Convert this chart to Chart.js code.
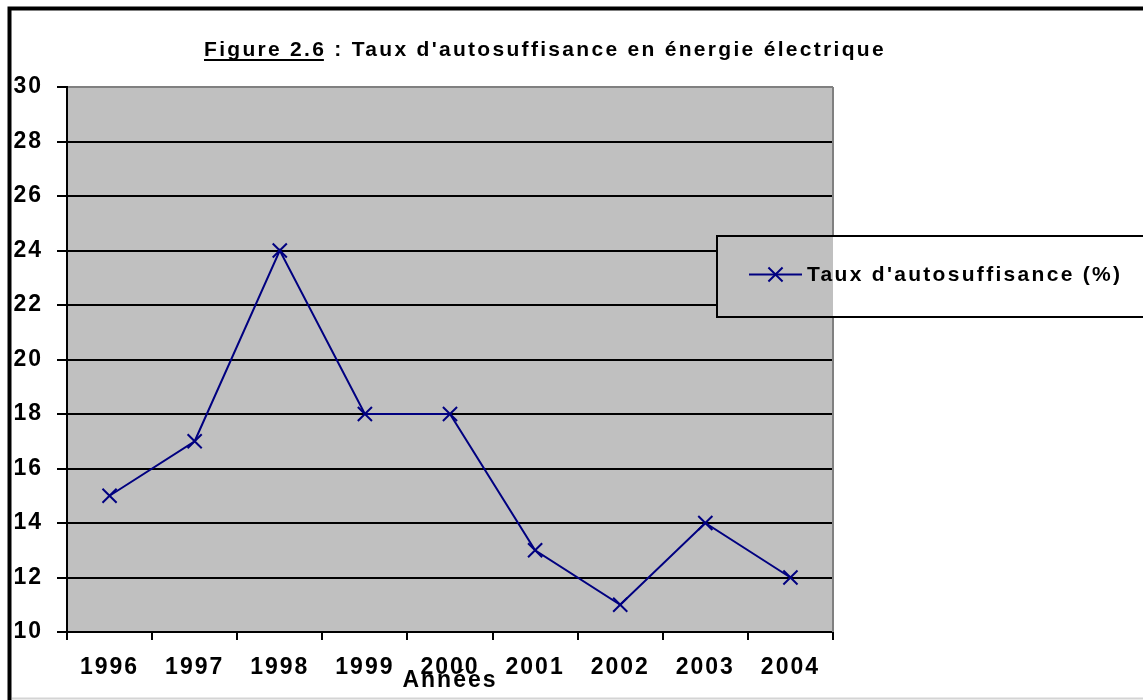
<!DOCTYPE html>
<html><head><meta charset="utf-8">
<script src="https://cdn.jsdelivr.net/npm/chart.js@4/dist/chart.umd.min.js"></script>
<style>html,body{margin:0;padding:0;background:#fff;overflow:hidden}canvas{display:block}</style>
</head><body>
<canvas id="c" width="1143" height="700" style="width:1143px;height:700px"></canvas>
<script>
// ---- data ----
const years = ['1996', '1997', '1998', '1999', '2000', '2001', '2002', '2003', '2004'];
const autosuffisance = [15, 17, 24, 18, 18, 13, 11, 14, 12];
const yMin = 10;
const yMax = 30;
const yStep = 2;
const titleFigure = 'Figure 2.6';
const titleRest = " : Taux d'autosuffisance en énergie électrique";
const seriesLabel = "Taux d'autosuffisance (%)";
const xAxisTitle = 'Années';

// ---- styles ----
const FONT = '"Liberation Sans", Arial, Helvetica, sans-serif';
const NAVY = '#000080';
const AXIS_SPACING = '2px';
const TEXT_SPACING = '2.3px';
const POINT_R = 10;

function setSpacing(chart) { chart.ctx.letterSpacing = AXIS_SPACING; }

const decor = {
  id: 'decor',
  beforeUpdate: setSpacing,
  beforeLayout: setSpacing,
  beforeDraw(chart) {
    setSpacing(chart);
    const { ctx, chartArea: a } = chart;
    ctx.save();
    ctx.fillStyle = '#c0c0c0';
    ctx.fillRect(a.left, a.top, a.right - a.left, a.bottom - a.top);
    ctx.restore();
  },
  beforeDatasetsDraw(chart) {
    const { ctx, chartArea: a } = chart;
    ctx.save();
    ctx.strokeStyle = '#808080';
    ctx.lineWidth = 2;
    ctx.beginPath();
    ctx.moveTo(a.right, a.top);
    ctx.lineTo(a.right, a.bottom);
    ctx.stroke();
    ctx.restore();
  },
  afterDraw(chart) {
    const { ctx, chartArea: a } = chart;
    // legend box
    const lx = 717, ly = 236, lw = 500, lh = 81;
    ctx.save();
    ctx.fillStyle = '#ffffff';
    ctx.fillRect(lx, ly, lw, lh);
    ctx.fillStyle = '#c0c0c0';
    ctx.fillRect(lx, ly, a.right - lx, lh);
    ctx.strokeStyle = '#000';
    ctx.lineWidth = 2;
    ctx.strokeRect(lx, ly, lw, lh);
    const cy = ly + lh / 2 - 2;
    ctx.strokeStyle = NAVY;
    ctx.lineWidth = 2;
    ctx.beginPath();
    ctx.moveTo(749, cy);
    ctx.lineTo(802, cy);
    ctx.stroke();
    Chart.helpers.drawPoint(ctx, { pointStyle: 'crossRot', radius: POINT_R, borderWidth: 2, rotation: 0 }, 775.5, cy);
    ctx.fillStyle = '#000';
    ctx.font = 'bold 21px ' + FONT;
    ctx.letterSpacing = TEXT_SPACING;
    ctx.textAlign = 'left';
    ctx.textBaseline = 'middle';
    ctx.fillText(seriesLabel, 807, cy + 1);
    ctx.restore();

    // title
    ctx.save();
    ctx.fillStyle = '#000';
    ctx.font = 'bold 21px ' + FONT;
    ctx.letterSpacing = TEXT_SPACING;
    ctx.textAlign = 'left';
    ctx.textBaseline = 'alphabetic';
    const tx = 204, ty = 56;
    ctx.fillText(titleFigure, tx, ty);
    const w1 = ctx.measureText(titleFigure).width;
    ctx.fillText(titleRest, tx + w1, ty);
    ctx.strokeStyle = '#000';
    ctx.lineWidth = 2;
    ctx.beginPath();
    ctx.moveTo(tx, ty + 4);
    ctx.lineTo(tx + w1 - 2.3, ty + 4);
    ctx.stroke();
    ctx.restore();

    // outer frame
    ctx.save();
    ctx.strokeStyle = '#000';
    ctx.lineWidth = 4;
    ctx.strokeRect(9.5, 8.5, 1400, 1000);
    ctx.strokeStyle = '#d4d4d4';
    ctx.lineWidth = 2;
    ctx.beginPath();
    ctx.moveTo(12, 698.5);
    ctx.lineTo(1143, 698.5);
    ctx.stroke();
    ctx.restore();
  }
};

new Chart(document.getElementById('c'), {
  type: 'line',
  data: {
    labels: years,
    datasets: [{
      label: seriesLabel,
      data: autosuffisance,
      borderColor: NAVY,
      backgroundColor: NAVY,
      borderWidth: 2,
      tension: 0,
      pointStyle: 'crossRot',
      pointRadius: POINT_R,
      pointHoverRadius: POINT_R,
      pointBorderWidth: 2,
      pointBorderColor: NAVY,
      pointBackgroundColor: NAVY
    }]
  },
  options: {
    responsive: false,
    animation: false,
    events: [],
    layout: { padding: { left: 0, top: 87, right: 310, bottom: 0 } },
    plugins: {
      legend: { display: false },
      title: { display: false },
      tooltip: { enabled: false }
    },
    scales: {
      x: {
        offset: true,
        grid: { offset: true, drawOnChartArea: false, drawTicks: true, tickLength: 8, color: '#000', lineWidth: 2 },
        border: { display: true, color: '#000', width: 2 },
        ticks: { color: '#000', font: { family: FONT, size: 23, weight: 'bold' }, padding: 14, maxRotation: 0, autoSkip: false },
        title: { display: true, text: xAxisTitle, color: '#000', font: { family: FONT, size: 23, weight: 'bold' }, padding: { top: 0, bottom: 6 } },
        afterFit(s) { s.height = 68; }
      },
      y: {
        min: yMin,
        max: yMax,
        grid: {
          color: c => (c.tick && c.tick.value === yMax ? '#808080' : '#000'),
          tickColor: '#000',
          lineWidth: 2,
          tickLength: 10
        },
        border: { display: true, color: '#000', width: 2 },
        ticks: { stepSize: yStep, color: '#000', font: { family: FONT, size: 23, weight: 'bold' }, padding: 14 },
        afterFit(s) { s.width = 67; }
      }
    }
  },
  plugins: [decor]
});
</script>
</body></html>
